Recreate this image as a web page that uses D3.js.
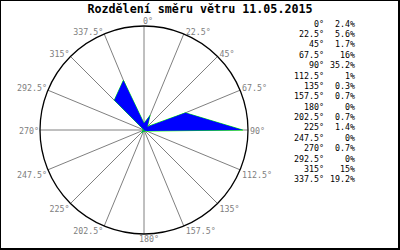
<!DOCTYPE html>
<html><head><meta charset="utf-8">
<script src="https://cdn.jsdelivr.net/npm/d3@7"></script>
<style>body{margin:0;background:#fff}svg{display:block}</style>
</head><body>
<svg id="c" width="400" height="250"></svg>
<script>
const title = "Rozdělení směru větru 11.05.2015";
const directions = [0, 22.5, 45, 67.5, 90, 112.5, 135, 157.5, 180, 202.5, 225, 247.5, 270, 292.5, 315, 337.5];
const dirLabels = ["0°","22.5°","45°","67.5°","90°","112.5°","135°","157.5°","180°","202.5°","225°","247.5°","270°","292.5°","315°","337.5°"];
const percents = [2.4, 5.6, 1.7, 16, 35.2, 1, 0.3, 0.7, 0, 0.7, 1.4, 0, 0.7, 0, 15, 19.2];
const pctLabels = ["2.4%","5.6%","1.7%","16%","35.2%","1%","0.3%","0.7%","0%","0.7%","1.4%","0%","0.7%","0%","15%","19.2%"];

const svg = d3.select("#c");
const W = 400, H = 250;
const cx = 144, cy = 130, R = 104;
const r = d3.scaleLinear().domain([0, 37.1]).range([0, R]);
const ang = d3.scaleLinear().domain([0, 360]).range([0, 2 * Math.PI]);
const px = (a, rad) => cx + rad * Math.sin(ang(a));
const py = (a, rad) => cy - rad * Math.cos(ang(a));

svg.append("rect").attr("x", 0).attr("y", 0).attr("width", W - 1).attr("height", H - 1)
  .attr("fill", "#fff").attr("stroke", "#000").attr("stroke-width", 2);

svg.append("text").attr("x", 200).attr("y", 13).attr("text-anchor", "middle")
  .attr("font-family", "DejaVu Sans Mono").attr("font-weight", "bold").attr("font-size", 11.7)
  .attr("fill", "#000").text(title);

// spokes
svg.append("g").selectAll("line").data(directions).join("line")
  .attr("x1", cx).attr("y1", cy)
  .attr("x2", d => px(d, R)).attr("y2", d => py(d, R))
  .attr("stroke", "#808080").attr("stroke-width", 1);

// polygon
const pts = directions.map((d, i) => [px(d, r(percents[i])), py(d, r(percents[i]))]);
const line = d3.line().curve(d3.curveLinearClosed);
svg.append("path").attr("d", line(pts)).attr("fill", "none")
  .attr("stroke", "#00ff00").attr("stroke-width", 1);
svg.append("path").attr("d", line(pts)).attr("fill", "#0000ff").attr("stroke", "none");

// circle
svg.append("circle").attr("cx", cx).attr("cy", cy).attr("r", R)
  .attr("fill", "none").attr("stroke", "#000").attr("stroke-width", 1.3);

// direction labels
svg.append("g").selectAll("text").data(directions).join("text")
  .attr("font-family", "DejaVu Sans Mono").attr("font-size", 8.3).attr("fill", "#808080")
  .attr("x", d => {
    const s = Math.sin(ang(d));
    if (s > 0.1) return px(d, R) + 2;
    if (s < -0.1) return px(d, R) - 1;
    return d === 0 ? px(d, R) - 1 : px(d, R) - 5;
  })
  .attr("y", d => {
    const c = Math.cos(ang(d));
    if (c > 0.1) return py(d, R) + (d === 0 ? -2 : 1);
    if (c < -0.1) return py(d, R) + 8;
    return py(d, R) + 4;
  })
  .attr("text-anchor", d => Math.sin(ang(d)) < -0.1 ? "end" : "start")
  .text((d, i) => dirLabels[i]);

// table
const row = d3.scaleLinear().domain([0, 15]).range([26.7, 182.3]);
const tg = svg.append("g").attr("font-family", "DejaVu Sans Mono").attr("font-size", 8.3).attr("fill", "#000");
tg.selectAll("text.d").data(dirLabels).join("text").attr("class", "d")
  .attr("x", 324).attr("y", (d, i) => row(i)).attr("text-anchor", "end").text(d => d);
tg.selectAll("text.p").data(pctLabels).join("text").attr("class", "p")
  .attr("x", 355).attr("y", (d, i) => row(i)).attr("text-anchor", "end").text(d => d);
</script>
</body></html>
